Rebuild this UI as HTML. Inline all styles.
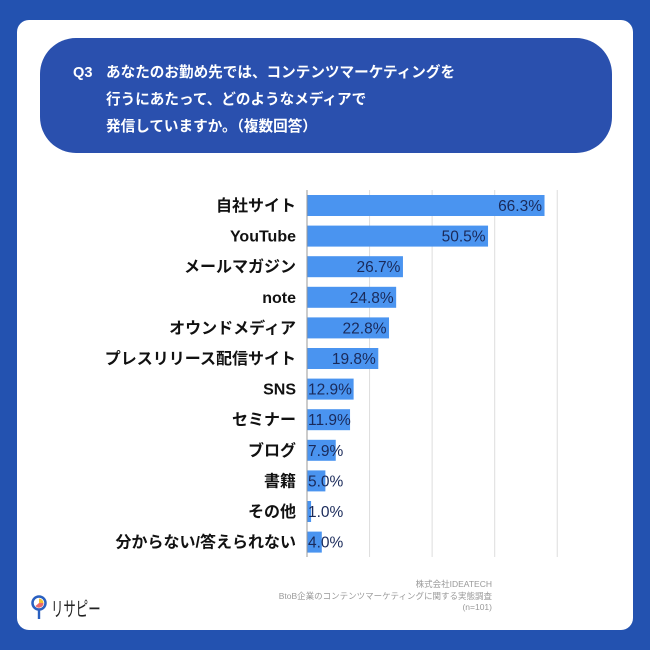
<!DOCTYPE html>
<html><head><meta charset="utf-8">
<style>
body{margin:0;width:650px;height:650px;background:#2352b0;font-family:"Liberation Sans","Noto Sans CJK JP",sans-serif;overflow:hidden;position:relative}
#card{position:absolute;left:17px;top:20px;width:616px;height:610px;background:#fff;border-radius:12px}
#title{position:absolute;left:40px;top:38px;width:572px;height:115px;background:#2a50ae;border-radius:36px;color:#fff;font-size:14.6px;font-weight:bold;line-height:27px}
#title .q{position:absolute;left:33px;top:22px}
#title .t{position:absolute;left:66px;top:22px;white-space:nowrap}
.foot{position:absolute;right:158px;font-size:8.5px;color:#999;text-align:right;white-space:nowrap}
</style></head><body>
<div id="card"></div>
<div id="title"><span class="q">Q3</span><span class="t">あなたのお勤め先では、コンテンツマーケティングを<br>行うにあたって、どのようなメディアで<br>発信していますか。（複数回答）</span></div>
<svg id="chart" width="650" height="650" style="position:absolute;left:0;top:0"></svg>
<div class="foot" style="top:578px">株式会社IDEATECH</div>
<div class="foot" style="top:590px">BtoB企業のコンテンツマーケティングに関する実態調査</div>
<div class="foot" style="top:602px">(n=101)</div>
<div style="position:absolute;left:31px;top:594px;">
<svg width="16" height="28" style="position:absolute;left:0;top:0"><circle cx="8" cy="9" r="6.5" fill="#fff" stroke="#2a60c0" stroke-width="2.5"/><path d="M8 9 L8 4.5 A4.5 4.5 0 0 1 12.5 9 Z" fill="#f4c030"/><path d="M8 9 L12.5 9 A4.5 4.5 0 0 1 4.5 12 Z" fill="#e86a6a"/><rect x="6.8" y="15" width="2.4" height="10" fill="#2a60c0"/></svg>
<span style="position:absolute;left:20px;top:-1px;font-size:20px;color:#222;white-space:nowrap;display:inline-block;transform:scaleX(0.62);transform-origin:left">リサピー</span></div>
<script>
const categories=["自社サイト","YouTube","メールマガジン","note","オウンドメディア","プレスリリース配信サイト","SNS","セミナー","ブログ","書籍","その他","分からない/答えられない"];
const values=[66.3,50.5,26.7,24.8,22.8,19.8,12.9,11.9,7.9,5.0,1.0,4.0];
const valueLabels=["66.3%","50.5%","26.7%","24.8%","22.8%","19.8%","12.9%","11.9%","7.9%","5.0%","1.0%","4.0%"];
const gridTicks=[0,17.5,35,52.5,70];
const svg=document.getElementById('chart');
const NS='http://www.w3.org/2000/svg';
const x0=307,pxPer=3.575,y0=205.5,pitch=30.6,bh=21;
const xs=v=>x0+v*pxPer;
const ys=i=>y0+i*pitch;
function mk(t,a){const e=document.createElementNS(NS,t);for(const k in a)e.setAttribute(k,a[k]);svg.appendChild(e);return e;}
gridTicks.forEach(g=>{const l=mk('line',{x1:xs(g),x2:xs(g),y1:190,y2:557,stroke:g===0?'#999':'#ddd','stroke-width':1});

});
categories.forEach((c,i)=>{
const cy=ys(i);
const t=mk('text',{x:296,y:cy+5.5,'text-anchor':'end','font-size':16,'font-weight':'bold',fill:'#111'});t.textContent=c;


const w=values[i]*pxPer;
const r=mk('rect',{x:x0+0.5,y:cy-bh/2,width:w,height:bh,fill:'#4a94f0'});


const tw=48;
const v=mk('text',{'font-size':15.5,fill:'#1a2a5a',y:cy+5.5});
if(w>tw+2){v.setAttribute('x',xs(values[i])-2);v.setAttribute('text-anchor','end');}
else{v.setAttribute('x',x0+1);}
v.textContent=valueLabels[i];


});
</script>
</body></html>
